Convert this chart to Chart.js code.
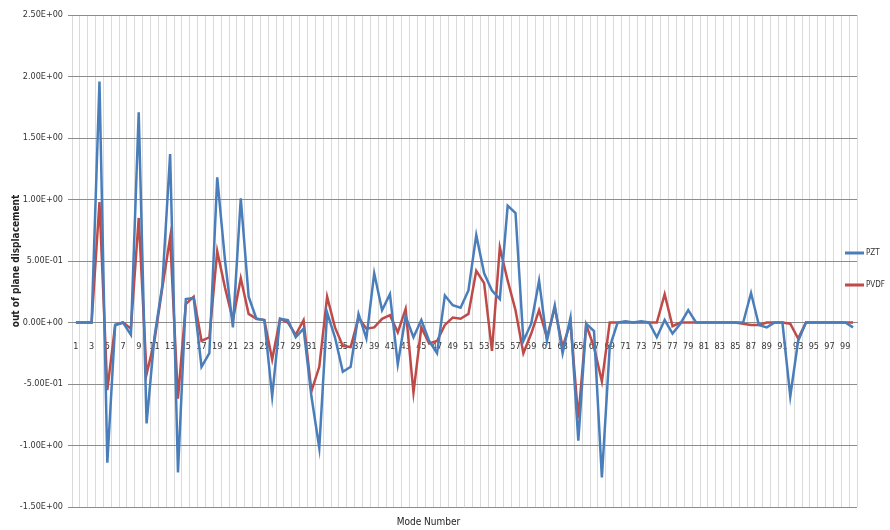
<!DOCTYPE html>
<html>
<head>
<meta charset="utf-8">
<script src="https://cdn.jsdelivr.net/npm/chart.js@4.4.1/dist/chart.umd.min.js"></script>
<style>
  body { margin: 0; background: #fff; }
  #wrap { width: 890px; height: 530px; }
</style>
</head>
<body>
<div id="wrap"><canvas id="modes" width="890" height="530"></canvas></div>
<script>
// mode numbers 1..100 on the category axis
const modeNumbers = Array.from({ length: 100 }, (_, i) => String(i + 1));

// out of plane displacement
const pztValues = [
  0, 0, 0, 1.96, -1.14, -0.02, 0, -0.1, 1.71, -0.82,
  -0.12, 0.3, 1.37, -1.22, 0.19, 0.2, -0.36, -0.25, 1.18, 0.5,
  -0.04, 1.01, 0.21, 0.03, 0.02, -0.6, 0.03, 0.02, -0.12, -0.05,
  -0.6, -1.02, 0.08, -0.12, -0.4, -0.36, 0.07, -0.13, 0.4, 0.1,
  0.23, -0.34, 0.05, -0.12, 0.02, -0.15, -0.25, 0.22, 0.14, 0.12,
  0.26, 0.71, 0.4, 0.26, 0.19, 0.95, 0.89, -0.15, -0.01, 0.34,
  -0.15, 0.14, -0.25, 0.04, -0.96, -0.01, -0.07, -1.26, -0.2, 0,
  0.01, 0, 0.01, 0, -0.12, 0.02, -0.09, -0.01, 0.1, 0,
  0, 0, 0, 0, 0, 0, 0.24, -0.02, -0.04, 0,
  0, -0.6, -0.15, 0, 0, 0, 0, 0, 0, -0.04
];
const pvdfValues = [
  0, 0, 0, 0.98, -0.55, -0.02, 0, -0.05, 0.85, -0.42,
  -0.15, 0.28, 0.69, -0.62, 0.15, 0.21, -0.15, -0.12, 0.58, 0.28,
  0.02, 0.36, 0.07, 0.03, 0.02, -0.3, 0.03, 0, -0.1, 0.02,
  -0.56, -0.36, 0.21, -0.04, -0.19, -0.2, 0.04, -0.05, -0.04, 0.03,
  0.06, -0.08, 0.11, -0.57, -0.04, -0.17, -0.15, -0.02, 0.04, 0.03,
  0.07, 0.42, 0.32, -0.23, 0.61, 0.34, 0.1, -0.25, -0.09, 0.1,
  -0.12, 0.12, -0.2, 0, -0.78, -0.02, -0.2, -0.48, 0, 0,
  0, 0, 0, 0, 0, 0.23, -0.03, 0, 0, 0,
  0, 0, 0, 0, 0, -0.01, -0.02, -0.02, 0, 0,
  0, -0.01, -0.13, 0, 0, 0, 0, 0, 0, 0
];

// y axis
const yMin = -1.5;
const yMax = 2.5;
const yStep = 0.5;

const labelFont = "'Liberation Sans Narrow', 'DejaVu Sans Condensed', 'Liberation Sans', Arial, sans-serif";

// Excel style 2.50E+00
function sciLabel(v) {
    const r = Math.round(v * 100) / 100;
    if (r === 0) return '0.00E+00';
    const e = Math.floor(Math.log10(Math.abs(r)) + 1e-9);
    const m = r / Math.pow(10, e);
    const sign = e < 0 ? '-' : '+';
    return m.toFixed(2) + 'E' + sign + String(Math.abs(e)).padStart(2, '0');
}

// legend drawn to the right, over the plot edge like the original
const sideLegend = {
    id: 'sideLegend',
    afterDraw(chart) {
        const ctx = chart.ctx;
        const x0 = chart.width - 45;
        ctx.save();
        chart.data.datasets.forEach((ds, i) => {
            const y = 253 + i * 32;
            ctx.strokeStyle = ds.borderColor;
            ctx.lineWidth = 3;
            ctx.beginPath();
            ctx.moveTo(x0, y);
            ctx.lineTo(x0 + 19, y);
            ctx.stroke();
            ctx.fillStyle = '#333';
            ctx.font = '8px ' + labelFont;
            ctx.textBaseline = 'middle';
            ctx.fillText(ds.label, x0 + 21, y);
        });
        ctx.restore();
    }
};

const modeChart = new Chart(document.getElementById('modes'), {
    type: 'line',
    data: {
        labels: modeNumbers,
        datasets: [
            { label: 'PZT', data: pztValues, borderColor: '#4a7ebb', borderWidth: 2.5, pointRadius: 0, tension: 0 },
            { label: 'PVDF', data: pvdfValues, borderColor: '#be4b48', borderWidth: 2.5, pointRadius: 0, tension: 0 }
        ]
    },
    options: {
        responsive: false,
        devicePixelRatio: 1,
        animation: false,
        layout: { padding: { top: 15, right: 33, left: 0, bottom: 0 } },
        plugins: {
            legend: { display: false },
            tooltip: { enabled: false },
            title: {
                display: true,
                position: 'bottom',
                text: 'Mode Number',
                color: '#222',
                font: { family: labelFont, size: 10, weight: 'normal' },
                padding: { top: 9, bottom: 2 }
            }
        },
        scales: {
            x: {
                type: 'category',
                position: { y: 0 },
                offset: true,
                grid: { offset: true, color: '#dadada', lineWidth: 1, drawTicks: false },
                border: { color: '#8a8a8a', width: 1 },
                ticks: {
                    autoSkip: false,
                    maxRotation: 0,
                    padding: 19,
                    color: '#333',
                    font: { family: labelFont, size: 9 },
                    callback: function (value, index) {
                        return index % 2 === 0 ? this.getLabelForValue(value) : '';
                    }
                }
            },
            y: {
                min: yMin,
                max: yMax,
                afterFit: (scale) => { scale.width = 72; },
                grid: { color: '#8c8c8c', lineWidth: 1, tickLength: 4 },
                border: { display: false },
                ticks: {
                    stepSize: yStep,
                    padding: 5,
                    color: '#333',
                    font: { family: labelFont, size: 9 },
                    callback: (v) => sciLabel(v)
                },
                title: {
                    display: true,
                    text: 'out of plane displacement',
                    color: '#222',
                    font: { family: labelFont, size: 10, weight: 'bold' },
                    padding: { top: 10, bottom: 0 }
                }
            }
        }
    },
    plugins: [sideLegend]
});
</script>
</body>
</html>
